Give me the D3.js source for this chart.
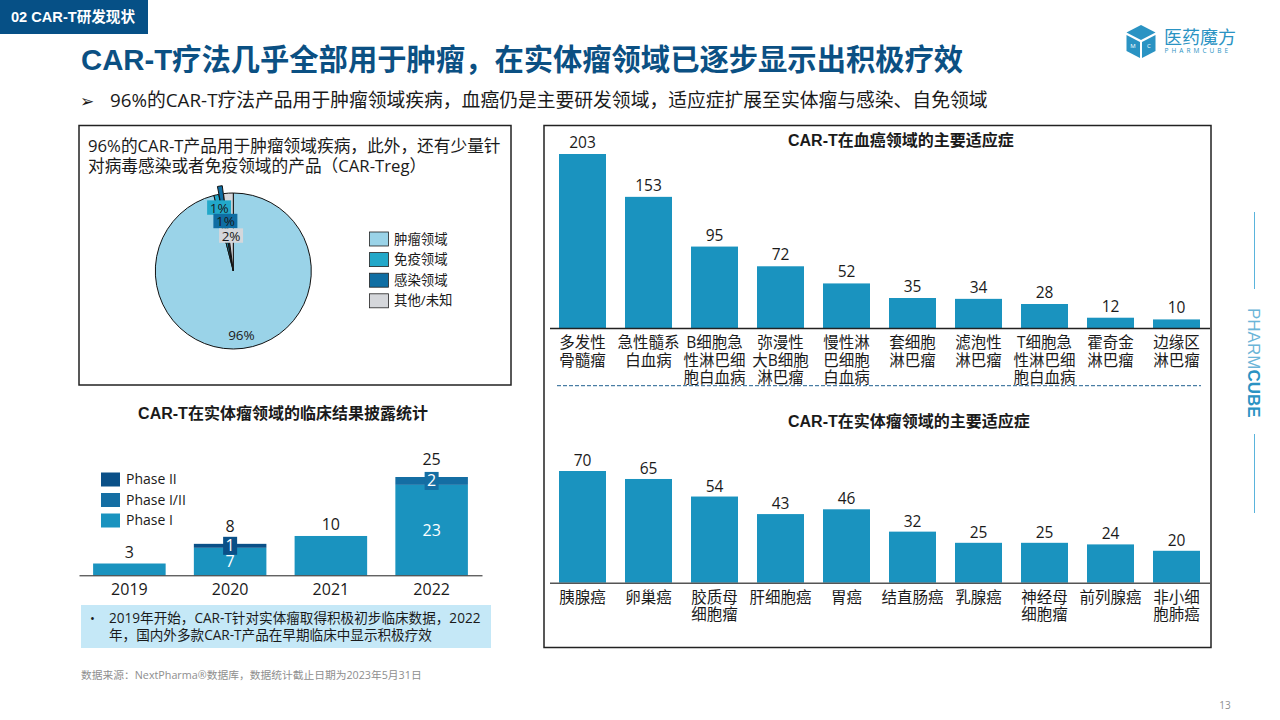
<!DOCTYPE html>
<html>
<head>
<meta charset="utf-8">
<script src="https://cdn.jsdelivr.net/npm/d3@7"></script>
<style>
    html, body { margin: 0; padding: 0; background: #fff; }
    svg { display: block; }
    text { font-family: "Open Sans", "Noto Sans CJK SC", sans-serif; fill: #1a1a1a; }
    .zh { font-family: "Noto Sans CJK SC", sans-serif; }
    .heading { font-family: "Liberation Sans", "Noto Sans CJK SC", sans-serif; font-weight: 700; }
    .axis text { font-family: "Open Sans", "Noto Sans CJK SC", sans-serif; fill: #1a1a1a; }
</style>
</head>
<body>
<svg id="chart" width="1280" height="720" viewBox="0 0 1280 720"></svg>
<script>
const pieNames = ['肿瘤领域', '免疫领域', '感染领域', '其他/未知']
const pieValues = [96, 1, 1, 2]
const pieColors = ['#9ad3e8', '#22a8c9', '#0f6ea3', '#d5d7db']

const years = ['2019', '2020', '2021', '2022']
const phaseNames = ['Phase I', 'Phase I/II', 'Phase II']
const phaseOne = [3, 7, 10, 23]
const phaseOneTwo = [0, 0, 0, 2]
const phaseTwo = [0, 1, 0, 0]
const phaseColors = ['#1a93bf', '#146ea3', '#0a5088']

const bloodNames = ['多发性\n骨髓瘤', '急性髓系\n白血病', 'B细胞急\n性淋巴细\n胞白血病', '弥漫性\n大B细胞\n淋巴瘤', '慢性淋\n巴细胞\n白血病', '套细胞\n淋巴瘤', '滤泡性\n淋巴瘤', 'T细胞急\n性淋巴细\n胞白血病', '霍奇金\n淋巴瘤', '边缘区\n淋巴瘤']
const bloodValues = [203, 153, 95, 72, 52, 35, 34, 28, 12, 10]

const solidNames = ['胰腺癌', '卵巢癌', '胶质母\n细胞瘤', '肝细胞癌', '胃癌', '结直肠癌', '乳腺癌', '神经母\n细胞瘤', '前列腺癌', '非小细\n胞肺癌']
const solidValues = [70, 65, 54, 43, 46, 32, 25, 25, 24, 20]

const svg = d3.select('#chart')
const barColor = '#1a93bf'

const label = (parent, x, y, str, size, opts = {}) => parent.append('text')
    .attr('x', x)
    .attr('y', y)
    .attr('font-size', size)
    .attr('text-anchor', opts.anchor || 'start')
    .attr('class', opts.cls || null)
    .style('fill', opts.fill || null)
    .text(str)

// page furniture
svg.append('rect').attr('width', 148).attr('height', 34).attr('fill', '#065086')
label(svg, 11, 22, '02 CAR-T研发现状', 14.6, {cls: 'heading', fill: '#fff'})
label(svg, 81, 70, 'CAR-T疗法几乎全部用于肿瘤，在实体瘤领域已逐步显示出积极疗效', 29.3, {cls: 'heading', fill: '#0b5083'})
label(svg, 80, 107, '➢', 17).style('font-family', 'DejaVu Sans')
label(svg, 110, 107, '96%的CAR-T疗法产品用于肿瘤领域疾病，血癌仍是主要研发领域，适应症扩展至实体瘤与感染、自免领域', 18.8)

// logo
const logo = svg.append('g').attr('transform', 'translate(1126.5,25)')
logo.append('path').attr('d', 'M14.5,0 L29,7.5 L14.5,15 L0,7.5 Z').attr('fill', '#2a93c3')
logo.append('path').attr('d', 'M0,10 L13.5,17 L13.5,33 L0,26 Z').attr('fill', '#2a93c3')
logo.append('path').attr('d', 'M29,10 L15.5,17 L15.5,33 L29,26 Z').attr('fill', '#2a93c3')
label(logo, 6.5, 23, 'M', 6, {anchor: 'middle', fill: '#fff'})
label(logo, 22.5, 23, 'C', 6, {anchor: 'middle', fill: '#fff'})
label(svg, 1164, 44, '医药魔方', 18, {cls: 'zh', fill: '#2a93c3'})
label(svg, 1164.5, 53, 'PHARMCUBE', 6.5, {fill: '#2a93c3'}).attr('letter-spacing', 3.05)

// side mark
svg.append('g').attr('stroke', '#5ab4dc').attr('stroke-width', 1)
    .selectAll('line').data([[212, 289], [434, 513]]).join('line')
    .attr('x1', 1254.5).attr('x2', 1254.5)
    .attr('y1', d => d[0]).attr('y2', d => d[1])
const side = svg.append('text')
    .attr('transform', 'translate(1248,308) rotate(90)')
    .attr('font-size', 17)
    .style('font-family', '"Liberation Sans"')
side.append('tspan').style('fill', '#6bb5d8').text('PHARM')
side.append('tspan').style('fill', '#2a93c3').attr('font-weight', 700).text('CUBE')

// panels
svg.append('rect').attr('x', 79).attr('y', 125.5).attr('width', 432).attr('height', 259.5)
    .attr('fill', 'none').attr('stroke', '#222').attr('stroke-width', 1.5)
svg.append('rect').attr('x', 544).attr('y', 125.5).attr('width', 667).attr('height', 522)
    .attr('fill', 'none').attr('stroke', '#222').attr('stroke-width', 1.5)

// pie
label(svg, 88, 152, '96%的CAR-T产品用于肿瘤领域疾病，此外，还有少量针', 16.7)
label(svg, 88, 172, '对病毒感染或者免疫领域的产品（CAR-Treg）', 16.7)

const pieCenter = [233.3, 271]
const pieRadius = 78
const pieExplode = [0, 0, 8, 0]
const pieLabelRadius = [65, 65, 50.6, 35.5]

const pie = d3.pie().sort(null)(pieValues)
const arc = d3.arc().innerRadius(0).outerRadius(pieRadius)
const gPie = svg.append('g').attr('transform', `translate(${pieCenter})`)

gPie.selectAll('path').data(pie).join('path')
    .attr('d', arc)
    .attr('fill', (d, i) => pieColors[i])
    .attr('stroke', '#111')
    .attr('stroke-width', 1)
    .attr('transform', (d, i) => {
        const mid = (d.startAngle + d.endAngle) / 2
        return `translate(${Math.sin(mid) * pieExplode[i]},${-Math.cos(mid) * pieExplode[i]})`
    })

const pieLabels = gPie.selectAll('g.pie-label').data(pie).join('g')
    .attr('class', 'pie-label')
    .attr('transform', (d, i) => {
        const mid = (d.startAngle + d.endAngle) / 2
        return `translate(${Math.sin(mid) * pieLabelRadius[i]},${-Math.cos(mid) * pieLabelRadius[i]})`
    })
pieLabels.filter((d, i) => i > 0).append('rect')
    .attr('x', -12).attr('y', -7.2).attr('width', 24).attr('height', 14.4)
    .attr('fill', (d, i) => pieColors[i + 1])
pieLabels.append('text')
    .attr('text-anchor', 'middle')
    .attr('y', 5)
    .attr('font-size', 13.5)
    .text(d => d.value + '%')

const pieLegend = svg.append('g').selectAll('g').data(pieNames).join('g')
    .attr('transform', (d, i) => `translate(369.5,${232 + i * 20.6})`)
pieLegend.append('rect').attr('width', 19).attr('height', 14)
    .attr('fill', (d, i) => pieColors[i]).attr('stroke', '#222').attr('stroke-width', 0.8)
pieLegend.append('text').attr('x', 24.5).attr('y', 11.5).attr('font-size', 13.4).text(d => d)

// stacked bars by year
label(svg, 283, 419, 'CAR-T在实体瘤领域的临床结果披露统计', 16, {anchor: 'middle', cls: 'heading'})

const yearRows = years.map((year, i) => ({year, a: phaseOne[i], b: phaseOneTwo[i], c: phaseTwo[i]}))
const yearTotal = d => d.a + d.b + d.c
const stacked = d3.stack().keys(['a', 'b', 'c'])(yearRows)

const xYear = d3.scaleBand().domain(years).range([79, 482]).paddingInner(0.28).paddingOuter(0.14)
const yYear = d3.scaleLinear().domain([0, 25]).range([575.3, 477])

const gStack = svg.append('g')
stacked.forEach((layer, k) => {
    gStack.append('g').selectAll('rect').data(layer).join('rect')
        .attr('x', d => xYear(d.data.year))
        .attr('width', xYear.bandwidth())
        .attr('y', d => yYear(d[1]))
        .attr('height', d => yYear(d[0]) - yYear(d[1]))
        .attr('fill', phaseColors[k])
})
stacked.forEach((layer, k) => {
    // only bars split in more than one phase carry inner numbers
    const seg = gStack.append('g').selectAll('g')
        .data(layer.filter(d => d[1] > d[0] && d[1] - d[0] < yearTotal(d.data)))
        .join('g')
        .attr('transform', d => `translate(${xYear(d.data.year) + xYear.bandwidth() / 2},${(yYear(d[0]) + yYear(d[1])) / 2})`)
    if (k > 0) seg.append('rect').attr('x', -7).attr('y', -9).attr('width', 14).attr('height', 18).attr('fill', phaseColors[k])
    seg.append('text')
        .attr('text-anchor', 'middle')
        .attr('y', 5.5)
        .attr('font-size', 16)
        .style('fill', '#fff')
        .text(d => d[1] - d[0])
})
gStack.append('g').selectAll('text').data(yearRows).join('text')
    .attr('x', d => xYear(d.year) + xYear.bandwidth() / 2)
    .attr('y', d => yYear(yearTotal(d)) - (d.a === yearTotal(d) ? 6 : 12))
    .attr('text-anchor', 'middle')
    .attr('font-size', 16)
    .text(yearTotal)

const axisYear = svg.append('g').attr('class', 'axis')
    .attr('transform', 'translate(0,575.3)')
    .call(d3.axisBottom(xYear).tickSize(0).tickPadding(8))
axisYear.selectAll('text').attr('font-size', 16)
axisYear.select('.domain').attr('stroke', '#222').attr('stroke-width', 1)

const phaseLegend = svg.append('g').selectAll('g').data(phaseNames.slice().reverse()).join('g')
    .attr('transform', (d, i) => `translate(101,${472.5 + i * 20.5})`)
phaseLegend.append('rect').attr('width', 19).attr('height', 14)
    .attr('fill', (d, i) => phaseColors[2 - i])
phaseLegend.append('text').attr('x', 25).attr('y', 11.5).attr('font-size', 14).text(d => d)

// callout
svg.append('rect').attr('x', 81).attr('y', 605).attr('width', 410).attr('height', 43).attr('fill', '#c5e8f7')
label(svg, 90, 623, '•', 13)
label(svg, 109, 623, '2019年开始，CAR-T针对实体瘤取得积极初步临床数据，2022', 13.6)
label(svg, 109, 640, '年，国内外多款CAR-T产品在早期临床中显示积极疗效', 13.6)

label(svg, 81, 679, '数据来源：NextPharma®数据库，数据统计截止日期为2023年5月31日', 10.75, {fill: '#8e8e8e'})
label(svg, 1225, 709, '13', 10, {anchor: 'middle', fill: '#8e8e8e'})

// indication bars
const drawBars = (names, values, domainTop, baseY, topY, axisColor, valueGap) => {
    const x = d3.scaleBand().domain(names).range([549.5, 1209.5]).paddingInner(0.288).paddingOuter(0.144)
    const y = d3.scaleLinear().domain([0, domainTop]).range([baseY, topY])
    const g = svg.append('g')

    g.selectAll('rect').data(names).join('rect')
        .attr('x', d => x(d))
        .attr('width', x.bandwidth())
        .attr('y', (d, i) => y(values[i]))
        .attr('height', (d, i) => baseY - y(values[i]))
        .attr('fill', barColor)

    g.selectAll('text.value').data(names).join('text')
        .attr('class', 'value')
        .attr('x', d => x(d) + x.bandwidth() / 2)
        .attr('y', (d, i) => y(values[i]) - valueGap)
        .attr('text-anchor', 'middle')
        .attr('font-size', 15.5)
        .text((d, i) => values[i])

    const axis = svg.append('g').attr('class', 'axis')
        .attr('transform', `translate(0,${baseY})`)
        .call(d3.axisBottom(x).tickSize(0))
    axis.select('.domain').attr('stroke', axisColor).attr('stroke-width', 1.4)
    axis.selectAll('.tick text').each(function(d) {
        const t = d3.select(this).text(null).attr('font-size', 15.5).attr('y', null).attr('dy', null)
        d.split('\n').forEach((line, i) => {
            t.append('tspan').attr('x', 0).attr('y', 20.3 + i * 17.5).text(line)
        })
    })
}

label(svg, 788, 146, 'CAR-T在血癌领域的主要适应症', 16, {cls: 'heading'})
drawBars(bloodNames, bloodValues, 203, 328, 154, '#222', 6)

svg.append('line').attr('x1', 557).attr('x2', 1201).attr('y1', 385.7).attr('y2', 385.7)
    .attr('stroke', '#1f5f8f').attr('stroke-width', 1).attr('stroke-dasharray', '4 2')

label(svg, 788, 426.7, 'CAR-T在实体瘤领域的主要适应症', 16, {cls: 'heading'})
drawBars(solidNames, solidValues, 70, 582.7, 471, '#555', 5)
</script>
</body>
</html>
